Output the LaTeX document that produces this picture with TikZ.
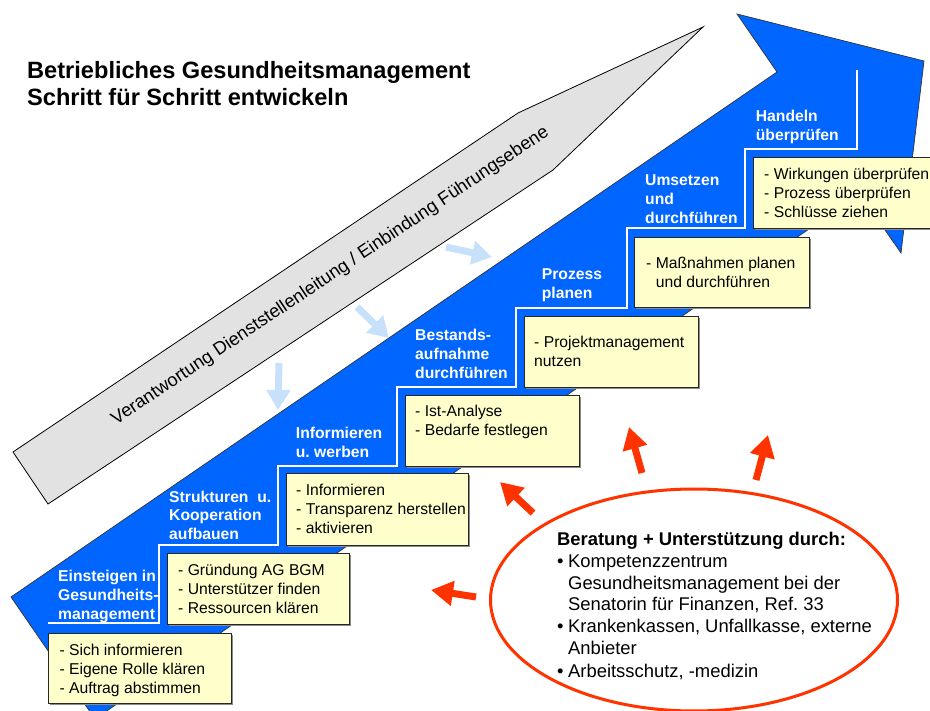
\documentclass[tikz,border=0pt]{standalone}
\usepackage{fontspec}
\setmainfont{Liberation Sans}
\usetikzlibrary{arrows.meta,shadows,shapes.geometric}
\definecolor{arrowblue}{RGB}{0,102,255}
\definecolor{boxyellow}{RGB}{255,255,204}
\definecolor{shaftgray}{RGB}{226,226,226}
\definecolor{paleblue}{RGB}{200,225,250}
\definecolor{supportred}{RGB}{255,51,0}
\newcommand{\setfs}[2]{\fontsize{#1}{#2}\selectfont}
\newcommand{\rows}[1]{\begin{tabular}[t]{@{}l@{}}#1\end{tabular}}
\frenchspacing
\begin{document}
\begin{tikzpicture}[x=1pt,y=-1pt,
  bigarrow/.style={fill=arrowblue, draw=black!80, line width=0.7pt, line join=miter},
  stairline/.style={draw=white, line width=2.6pt},
  grayarrow/.style={fill=shaftgray, draw=black, line width=0.8pt},
  steplabel/.style={anchor=base west, inner sep=0pt, text=white, font=\setfs{15.7}{19}\bfseries},
  ybox/.style={fill=boxyellow, draw=black!85, line width=1pt, anchor=north west, inner sep=0pt,
    drop shadow={shadow xshift=1.8pt, shadow yshift=-1.8pt, fill=black!45, opacity=1}},
  boxtext/.style={anchor=base west, inner sep=0pt, font=\setfs{15.7}{19}},
  paleflow/.style={draw=paleblue, line width=7pt, -{Triangle[length=20pt,width=23pt]}},
  support/.style={draw=supportred, line width=7pt, -{Triangle[length=22pt,width=24pt]}},
]
\useasboundingbox (0,0) rectangle (930,711);
\begin{scope}
\clip (0,0) rectangle (930,711);
\fill[white] (0,0) rectangle (930,711);

% title
\node[anchor=base west, inner sep=0pt, font=\setfs{23.6}{27.4}\bfseries] (title) at (27,78.3)
  {\rows{Betriebliches Gesundheitsmanagement\\Schritt für Schritt entwickeln}};

% gray arrow
\draw[grayarrow] (13,452) -- (518,113) -- (703,27) -- (553,170) -- (48,504) -- cycle;
\node[rotate=33.8, anchor=base, inner sep=0pt, font=\setfs{18.3}{22}] (resp) at (333,280)
  {Verantwortung Dienststellenleitung / Einbindung Führungsebene};

% pale blue arrows
\coordinate (l1a) at (446,247); \coordinate (l1b) at (492,257);
\coordinate (l2a) at (357,307); \coordinate (l2b) at (389,338);
\coordinate (l3a) at (279,363); \coordinate (l3b) at (278,410);
\draw[paleflow] (l1a) -- (l1b);
\draw[paleflow] (l2a) -- (l2b);
\draw[paleflow] (l3a) -- (l3b);

% big blue arrow
\draw[bigarrow] (11,597) -- (777,72) -- (737,14) -- (924,61) -- (901,253) -- (860,194) -- (95,719) -- cycle;

% stairs
\draw[stairline] (48,623) -- (159,623) -- (159,545) -- (278,545) -- (278,466) -- (397,466)
  -- (397,387) -- (516,387) -- (516,308) -- (627,308) -- (627,228) -- (745,228)
  -- (745,149) -- (857,149) -- (857,70);

% step labels
\node[steplabel] (s1) at (58,581.6) {\rows{Einsteigen in\\Gesundheits-\\management}};
\node[steplabel] (s2) at (169,502) {\rows{Strukturen\ \ u.\\Kooperation\\aufbauen}};
\node[steplabel] (s3) at (295.7,439) {\rows{Informieren\\u. werben}};
\node[steplabel] (s4) at (415,341) {\rows{Bestands-\\aufnahme\\durchführen}};
\node[steplabel] (s5) at (541.7,280) {\rows{Prozess\\planen}};
\node[steplabel] (s6) at (645,185.6) {\rows{Umsetzen\\und\\durchführen}};
\node[steplabel] (s7) at (755.7,122) {\rows{Handeln\\überprüfen}};

% yellow boxes
\node[ybox, minimum width=183pt, minimum height=70pt] (b1) at (48,633) {};
\node[ybox, minimum width=182pt, minimum height=71pt] (b2) at (167,553) {};
\node[ybox, minimum width=182pt, minimum height=72pt] (b3) at (286,473) {};
\node[ybox, minimum width=174pt, minimum height=71pt] (b4) at (405,395) {};
\node[ybox, minimum width=174pt, minimum height=71pt] (b5) at (524,316) {};
\node[ybox, minimum width=175pt, minimum height=70pt] (b6) at (634,237) {};
\node[ybox, minimum width=185pt, minimum height=71pt] (b7) at (753,157) {};

\node[boxtext] (t1) at (59.3,655.6) {\rows{- Sich informieren\\- Eigene Rolle klären\\- Auftrag abstimmen}};
\node[boxtext] (t2) at (178,575.6) {\rows{- Gründung AG BGM\\- Unterstützer finden\\- Ressourcen klären}};
\node[boxtext] (t3) at (296,496) {\rows{- Informieren\\- Transparenz herstellen\\- aktivieren}};
\node[boxtext] (t4) at (415,417) {\rows{- Ist-Analyse\\- Bedarfe festlegen}};
\node[boxtext] (t5) at (534,348) {\rows{- Projektmanagement\\nutzen}};
\node[boxtext] (t6) at (646,269) {\rows{- Maßnahmen planen\\\hspace{9.6pt}und durchführen}};
\node[boxtext] (t7) at (764,179.6) {\rows{- Wirkungen überprüfen\\- Prozess überprüfen\\- Schlüsse ziehen}};

% support ellipse
\node[ellipse, draw=supportred, line width=3pt, minimum width=407pt, minimum height=222pt, inner sep=0pt] (support) at (694,600) {};
\node[anchor=base west, inner sep=0pt, font=\setfs{18.4}{22}] (supporttext) at (557,545)
  {\begin{tabular}[t]{@{}l@{}l@{}}
   \multicolumn{2}{@{}l@{}}{\bfseries Beratung + Unterstützung durch:}\\
   \makebox[11pt][l]{•} & Kompetenzzentrum\\
   & Gesundheitsmanagement bei der\\
   & Senatorin für Finanzen, Ref. 33\\
   \makebox[11pt][l]{•} & Krankenkassen, Unfallkasse, externe\\
   & Anbieter\\
   \makebox[11pt][l]{•} & Arbeitsschutz, -medizin
   \end{tabular}};

% red arrows
\coordinate (r1a) at (533,513); \coordinate (r1b) at (500,482);
\coordinate (r2a) at (642,473); \coordinate (r2b) at (629,427);
\coordinate (r3a) at (756,480); \coordinate (r3b) at (768,435);
\coordinate (r4a) at (476,597); \coordinate (r4b) at (431,590);
\draw[support] (r1a) -- (r1b);
\draw[support] (r2a) -- (r2b);
\draw[support] (r3a) -- (r3b);
\draw[support] (r4a) -- (r4b);
\end{scope}
\end{tikzpicture}
\end{document}
